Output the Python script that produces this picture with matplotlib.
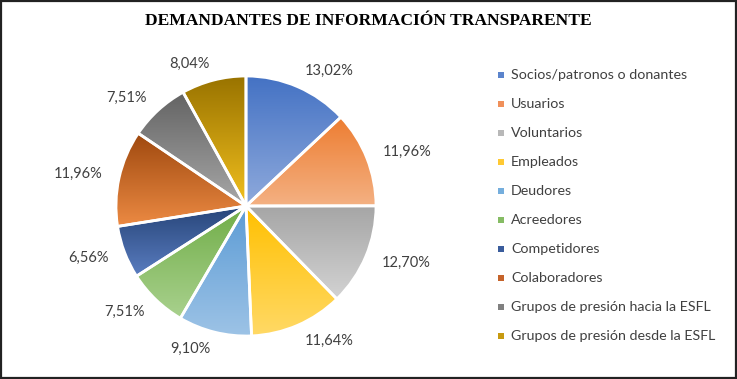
import matplotlib
matplotlib.use("Agg")
import matplotlib.pyplot as plt
import numpy as np
from matplotlib.colors import LinearSegmentedColormap
from matplotlib.patches import Rectangle

categories = [
    "Socios/patronos o donantes",
    "Usuarios",
    "Voluntarios",
    "Empleados",
    "Deudores",
    "Acreedores",
    "Competidores",
    "Colaboradores",
    "Grupos de presión hacia la ESFL",
    "Grupos de presión desde la ESFL",
]
values = [13.02, 11.96, 12.70, 11.64, 9.10, 7.51, 6.56, 11.96, 7.51, 8.04]
labels = ["13,02%", "11,96%", "12,70%", "11,64%", "9,10%",
          "7,51%", "6,56%", "11,96%", "7,51%", "8,04%"]

# gradient (top, bottom) for each slice
top_colors = ["#4472C4", "#ED7D31", "#A5A5A5", "#FFC000", "#5B9BD5",
              "#70AD47", "#264478", "#9E480E", "#636363", "#997300"]
bottom_colors = ["#8FAADC", "#F4B183", "#D3D3D3", "#FFD966", "#9DC3E6",
                 "#A9D18E", "#5A7DC0", "#EC8A43", "#A8A8A8", "#F2C01E"]
legend_colors = ["#5B84CC", "#F0905A", "#B8B8B8", "#FFC933", "#75AEDD",
                 "#86BC64", "#3A5C9C", "#C5632A", "#808080", "#C79A10"]

fig = plt.figure(figsize=(7.37, 3.79), dpi=100)

cx, cy, r = 246, 206, 130
W, H = 737, 379
half = r * 1.4
ax = fig.add_axes([(cx - half) / W, (H - cy - half) / H, 2 * half / W, 2 * half / H])
ax.set_aspect("equal")
ax.axis("off")

wedges, texts = ax.pie(values, labels=labels, startangle=90, counterclock=False,
                       labeldistance=1.13, radius=1.0,
                       wedgeprops=dict(facecolor="none", edgecolor="white", linewidth=2),
                       textprops=dict(family="Lato", fontsize=10.5, color="#404040"))

grad = np.linspace(0, 1, 256).reshape(-1, 1)
for w, c1, c2 in zip(wedges, top_colors, bottom_colors):
    w.set_zorder(3)
    cmap = LinearSegmentedColormap.from_list("g", [c1, c2])
    verts = w.get_path().vertices
    x0, y0 = verts.min(axis=0)
    x1, y1 = verts.max(axis=0)
    im = ax.imshow(grad, cmap=cmap, extent=[x0, x1, y0, y1], origin="upper",
                   aspect="auto", zorder=2, interpolation="bilinear")
    im.set_clip_path(w)
ax.set_xlim(-1.4, 1.4)
ax.set_ylim(-1.4, 1.4)

fig.text(368 / W, 1 - 21 / H, "DEMANDANTES DE INFORMACIÓN TRANSPARENTE",
         family="Liberation Serif", fontweight="bold", fontsize=12.6,
         ha="center", va="center", color="black")

# legend
y_first, step = 75, 29
for i, (name, col) in enumerate(zip(categories, legend_colors)):
    y = y_first + i * step
    fig.patches.append(Rectangle((498 / W, (H - y - 3) / H), 6 / W, 6 / H,
                                 transform=fig.transFigure, facecolor=col,
                                 edgecolor="none", figure=fig))
    fig.text(511 / W, 1 - y / H, name, family="Lato", fontsize=10.3,
             color="#404040", ha="left", va="center")

fig.patches.append(Rectangle((0.001, 0.002), 0.997, 0.996, transform=fig.transFigure,
                             facecolor="none", edgecolor="#222222", linewidth=1.6,
                             figure=fig))

fig.savefig("out.png", dpi=100)
